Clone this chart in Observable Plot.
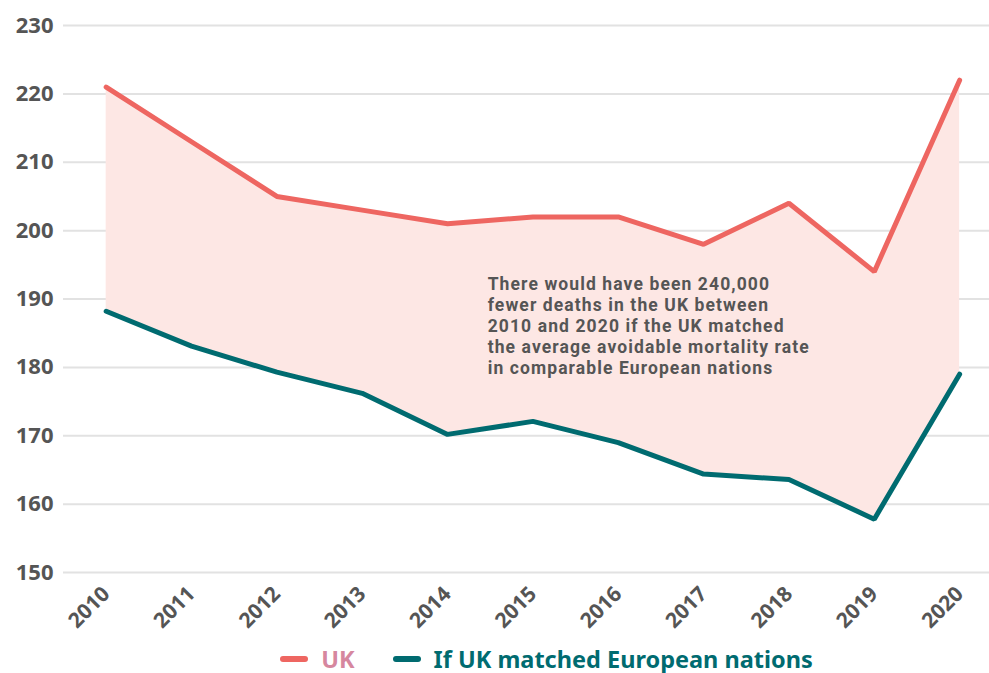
<!DOCTYPE html>
<html>
<head>
<meta charset="utf-8">
<script src="https://cdn.jsdelivr.net/npm/d3@7"></script>
<script src="https://cdn.jsdelivr.net/npm/@observablehq/plot@0.6"></script>
<style>
  body { margin: 0; background: #fff; font-family: "Noto Sans", sans-serif; }
  #chart { width: 989px; }
  g[aria-label="text"] text { letter-spacing: 1.1px; }
  .legend { display: flex; justify-content: center; align-items: center; height: 33px; font-weight: 700; font-size: 23.5px; margin-left: 142px; margin-top: 2px; }
  .legend .item { display: flex; align-items: center; margin-right: 38px; }
  .legend .sw { width: 28px; height: 6px; border-radius: 3px; margin-right: 13px; }
</style>
</head>
<body>
<div id="chart"></div>
<script>
const years = [2010, 2011, 2012, 2013, 2014, 2015, 2016, 2017, 2018, 2019, 2020];
const ukValues = [221, 213, 205, 203, 201, 202, 202, 198, 204, 194, 222];
const euValues = [188.2, 183.1, 179.3, 176.2, 170.2, 172.1, 169.0, 164.4, 163.6, 157.8, 179.0];
const yTicks = [150, 160, 170, 180, 190, 200, 210, 220, 230];
const seriesNames = ["UK", "If UK matched European nations"];
const seriesColors = ["#ee6661", "#006b70"];
const legendTextColors = ["#d6879f", "#006b70"];
const annotationText = "There would have been 240,000\nfewer deaths in the UK between\n2010 and 2020 if the UK matched\nthe average avoidable mortality rate\nin comparable European nations";
const annotation = [{x: 2014.47, y: 193.5, text: annotationText}];

const rows = years.map((year, i) => ({year, uk: ukValues[i], eu: euValues[i]}));

const chart = Plot.plot({
  width: 989,
  height: 640,
  marginLeft: 63,
  marginRight: 0,
  marginTop: 25,
  marginBottom: 68,
  style: {fontFamily: "Noto Sans, sans-serif", background: "#fff"},
  x: {domain: [2009.5, 2020.35], ticks: years, tickFormat: d => String(d)},
  y: {domain: [150, 230], ticks: yTicks},
  marks: [
    Plot.ruleY(yTicks, {stroke: "#e2e2e2", strokeWidth: 2}),
    Plot.areaY(rows, {x: "year", y1: "eu", y2: "uk", fill: "#fde7e4"}),
    Plot.lineY(rows, {x: "year", y: "uk", stroke: seriesColors[0], strokeWidth: 5, strokeLinecap: "round", strokeLinejoin: "miter"}),
    Plot.lineY(rows, {x: "year", y: "eu", stroke: seriesColors[1], strokeWidth: 5, strokeLinecap: "round", strokeLinejoin: "miter"}),
    Plot.text(annotation, {x: "x", y: "y", text: "text", textAnchor: "start", lineAnchor: "top", lineHeight: 1.2, fontSize: 17.5, fontFamily: "Roboto, sans-serif", fontWeight: 700, fill: "#555"}),
    Plot.axisY({ticks: yTicks, tickSize: 0, tickPadding: 10, fontSize: 22, fontWeight: 700, fill: "#555", label: null}),
    Plot.axisX({ticks: years, tickSize: 0, tickPadding: 18, tickRotate: -45, fontSize: 21, fontWeight: 700, fill: "#555", label: null, tickFormat: d => String(d)})
  ]
});
document.getElementById("chart").appendChild(chart);

const legend = document.createElement("div");
legend.className = "legend";
seriesNames.forEach((name, i) => {
  const item = document.createElement("div");
  item.className = "item";
  const sw = document.createElement("span");
  sw.className = "sw";
  sw.style.background = seriesColors[i];
  const label = document.createElement("span");
  label.textContent = name;
  label.style.color = legendTextColors[i];
  item.appendChild(sw);
  item.appendChild(label);
  legend.appendChild(item);
});
document.getElementById("chart").appendChild(legend);
</script>
</body>
</html>
